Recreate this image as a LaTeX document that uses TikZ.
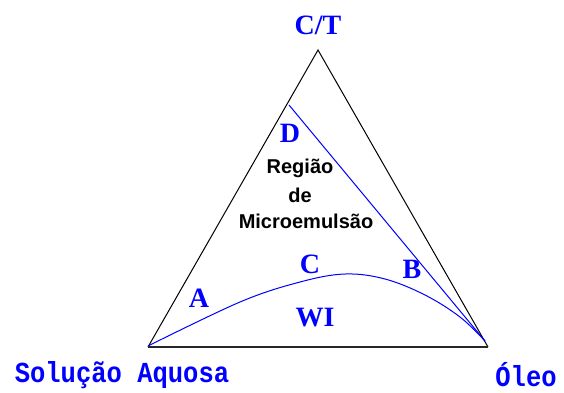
\documentclass[tikz,border=0pt]{standalone}
\usepackage{fontspec}
\setmainfont{Liberation Serif}
\newfontfamily\labmono[FakeStretch=0.88]{Liberation Mono}
\newfontfamily\labsans{Liberation Sans}
\begin{document}
\begin{tikzpicture}[x=1pt,y=-1pt,
  bluelab/.style={text=labblue,font=\bfseries\fontsize{28}{28}\selectfont,inner sep=0pt},
  cornerlab/.style={text=labblue,font=\labmono\bfseries\fontsize{29}{29}\selectfont,inner sep=0pt},
  regionlab/.style={text=black,font=\labsans\bfseries\fontsize{20}{20}\selectfont,inner sep=0pt},
  side/.style={draw=black,line width=1pt},
  bluecurve/.style={draw=labblue,line width=1pt}]
\definecolor{labblue}{RGB}{0,0,255}
\useasboundingbox[fill=white] (0,0) rectangle (564,392);
\coordinate (top) at (318,50);
\coordinate (bl) at (148,347);
\coordinate (br) at (488,347);
\coordinate (dstart) at (289,105);
\coordinate (rend) at (485,341);
\draw[side] (bl) -- (top) -- (br);
\draw[draw=black!85,line width=1.8pt] (bl) -- (br);
\draw[bluecurve] (dstart) -- (rend);
\draw[bluecurve] plot[smooth,tension=0.6] coordinates {(148,346) (240,302) (300,282) (345,274) (385,279) (425,295) (460,317) (485,341)};
\node[bluelab] (ct) at (318,25) {C/T};
\node[cornerlab] (sa) at (122,375) {Solução Aquosa};
\node[cornerlab] (ol) at (526,375) {Óleo};
\node[bluelab] (d) at (290,133) {D};
\node[bluelab] (a) at (199,298) {A};
\node[bluelab] (c) at (310,264) {C};
\node[bluelab] (b) at (412,269) {B};
\node[bluelab] (wi) at (315,318) {WI};
\node[regionlab] (r1) at (300,168) {Região};
\node[regionlab] (r2) at (300,195) {de};
\node[regionlab] (r3) at (306,221) {Microemulsão};
\end{tikzpicture}
\end{document}
